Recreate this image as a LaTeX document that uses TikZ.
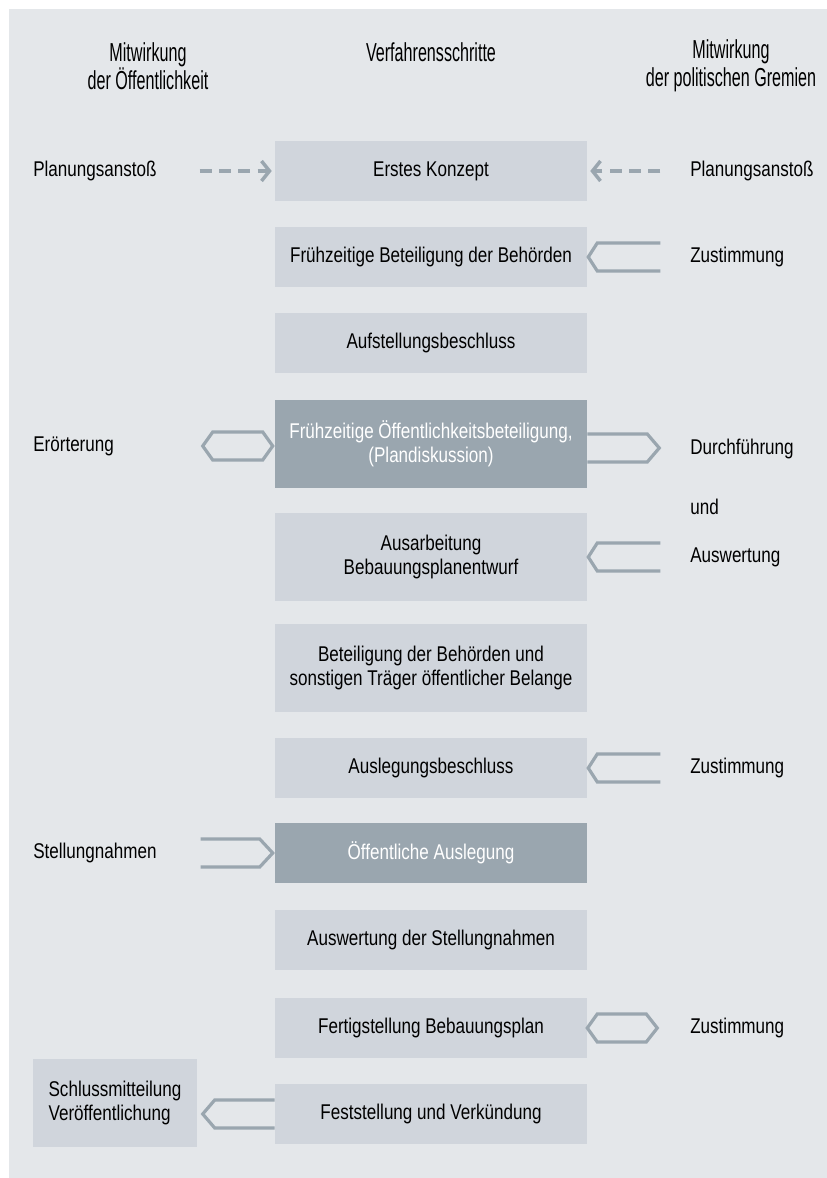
\documentclass[tikz,border=0pt]{standalone}
\usepackage{fontspec}
\setmainfont{Liberation Sans}[FakeStretch=0.80]
\newfontfamily\headfont{Liberation Sans}[FakeStretch=0.62]
\usetikzlibrary{arrows.meta,positioning,calc}
\definecolor{panelgray}{HTML}{E4E7EA}
\definecolor{boxgray}{HTML}{D0D5DC}
\definecolor{darkgray}{HTML}{9AA6AF}
\definecolor{arrowgray}{HTML}{9AA6AF}

\begin{document}
\begin{tikzpicture}[x=0.75pt, y=-0.75pt,
    stepbox/.style={rectangle, inner sep=0pt, minimum width=234pt, minimum height=45pt, align=center, fill=boxgray, font=\fontsize{16}{18}\selectfont},
    tallbox/.style={stepbox, minimum height=66pt},
    darkbox/.style={fill=darkgray, text=white},
    head/.style={align=center, font=\headfont\fontsize{19.5}{21}\selectfont},
    lbl/.style={anchor=west, inner sep=0pt, font=\fontsize{16}{18}\selectfont},
    conn/.style={draw=arrowgray, line width=2.4pt, line join=miter},
    dasharr/.style={arrowgray, line width=3pt, dash pattern=on 9pt off 5.5pt, -{Straight Barb[length=6pt, width=15pt, line width=2.6pt]}},
]
% Panel
\useasboundingbox (0,0) rectangle (827,1178);
\fill[panelgray] (9,9) rectangle (827,1178);
% Headings
\node[head] (hpub)  at (148,66) {Mitwirkung\\der Öffentlichkeit};
\node[head] (hstep) at (431,52) {Verfahrensschritte};
\node[head] (hpol)  at (731,66) {Mitwirkung\\der politischen Gremien};
% Procedure steps
\node[stepbox]          (b1)  at (431,171)  {Erstes Konzept};
\node[stepbox]          (b2)  at (431,257)  {Frühzeitige Beteiligung der Behörden};
\node[stepbox]          (b3)  at (431,343)  {Aufstellungsbeschluss};
\node[tallbox,darkbox]  (b4)  at (431,444)  {Frühzeitige Öffentlichkeitsbeteiligung,\\(Plandiskussion)};
\node[tallbox]          (b5)  at (431,557)  {Ausarbeitung\\Bebauungsplanentwurf};
\node[tallbox]          (b6)  at (431,668)  {Beteiligung der Behörden und\\sonstigen Träger öffentlicher Belange};
\node[stepbox]          (b7)  at (431,768)  {Auslegungsbeschluss};
\node[stepbox,darkbox]  (b8)  at (431,853)  {Öffentliche Auslegung};
\node[stepbox]          (b9)  at (431,940)  {Auswertung der Stellungnahmen};
\node[stepbox]          (b10) at (431,1028) {Fertigstellung Bebauungsplan};
\node[stepbox]          (b11) at (431,1114) {Feststellung und Verkündung};
\node[stepbox, minimum width=123pt, minimum height=66pt, align=left] (schluss) at (115,1103) {Schlussmitteilung\\Veröffentlichung};
% Labels left
\node[lbl] (ansl)  at (33,171) {Planungsanstoß};
\node[lbl] (erört) at (33,446) {Erörterung};
\node[lbl] (stell) at (33,853) {Stellungnahmen};
% Labels right
\node[lbl] (ansr)  at (690,171)  {Planungsanstoß};
\node[lbl] (zust1) at (690,257)  {Zustimmung};
\node[lbl] (durch) at (690,449)  {Durchführung};
\node[lbl] (und)   at (690,507)  {und};
\node[lbl] (ausw)  at (690,557)  {Auswertung};
\node[lbl] (zust2) at (690,768)  {Zustimmung};
\node[lbl] (zust3) at (690,1028) {Zustimmung};
% Dashed arrows
\draw[dasharr] ($(b1.west)+(-75,0)$) -- ($(b1.west)+(-3,0)$);
\draw[dasharr] ($(b1.east)+(73,0)$) -- ($(b1.east)+(3,0)$);
% Open arrows into the steps
\draw[conn] ($(b2.east)+(73,-14)$) -- ++(-63,0) -- ++(-9,14) -- ++(9,14) -- ++(63,0);
\draw[conn] ($(b5.east)+(73,-14)$) -- ++(-63,0) -- ++(-9,14) -- ++(9,14) -- ++(63,0);
\draw[conn] ($(b7.east)+(73,-14)$) -- ++(-63,0) -- ++(-9,14) -- ++(9,14) -- ++(63,0);
\draw[conn] ($(b8.west)+(-74,-14)$) -- ++(59,0) -- ++(13,14) -- ++(-13,14) -- ++(-59,0);
% Open arrows out of the steps
\draw[conn] ($(b4.east)+(0,-10)$) -- ++(60,0) -- ++(12,14) -- ++(-12,14) -- ++(-60,0);
\draw[conn] ($(b11.west)+(0,-14)$) -- ++(-60,0) -- ++(-12,14) -- ++(12,14) -- ++(60,0);
% Two-way arrows
\draw[conn] ($(b4.west)+(-72,2)$) -- ++(10,-14) -- ++(50,0) -- ++(10,14) -- ++(-10,14) -- ++(-50,0) -- cycle;
\draw[conn] ($(b10.east)+(0,0)$) -- ++(10,-14) -- ++(49,0) -- ++(11,14) -- ++(-11,14) -- ++(-49,0) -- cycle;
\end{tikzpicture}
\end{document}
